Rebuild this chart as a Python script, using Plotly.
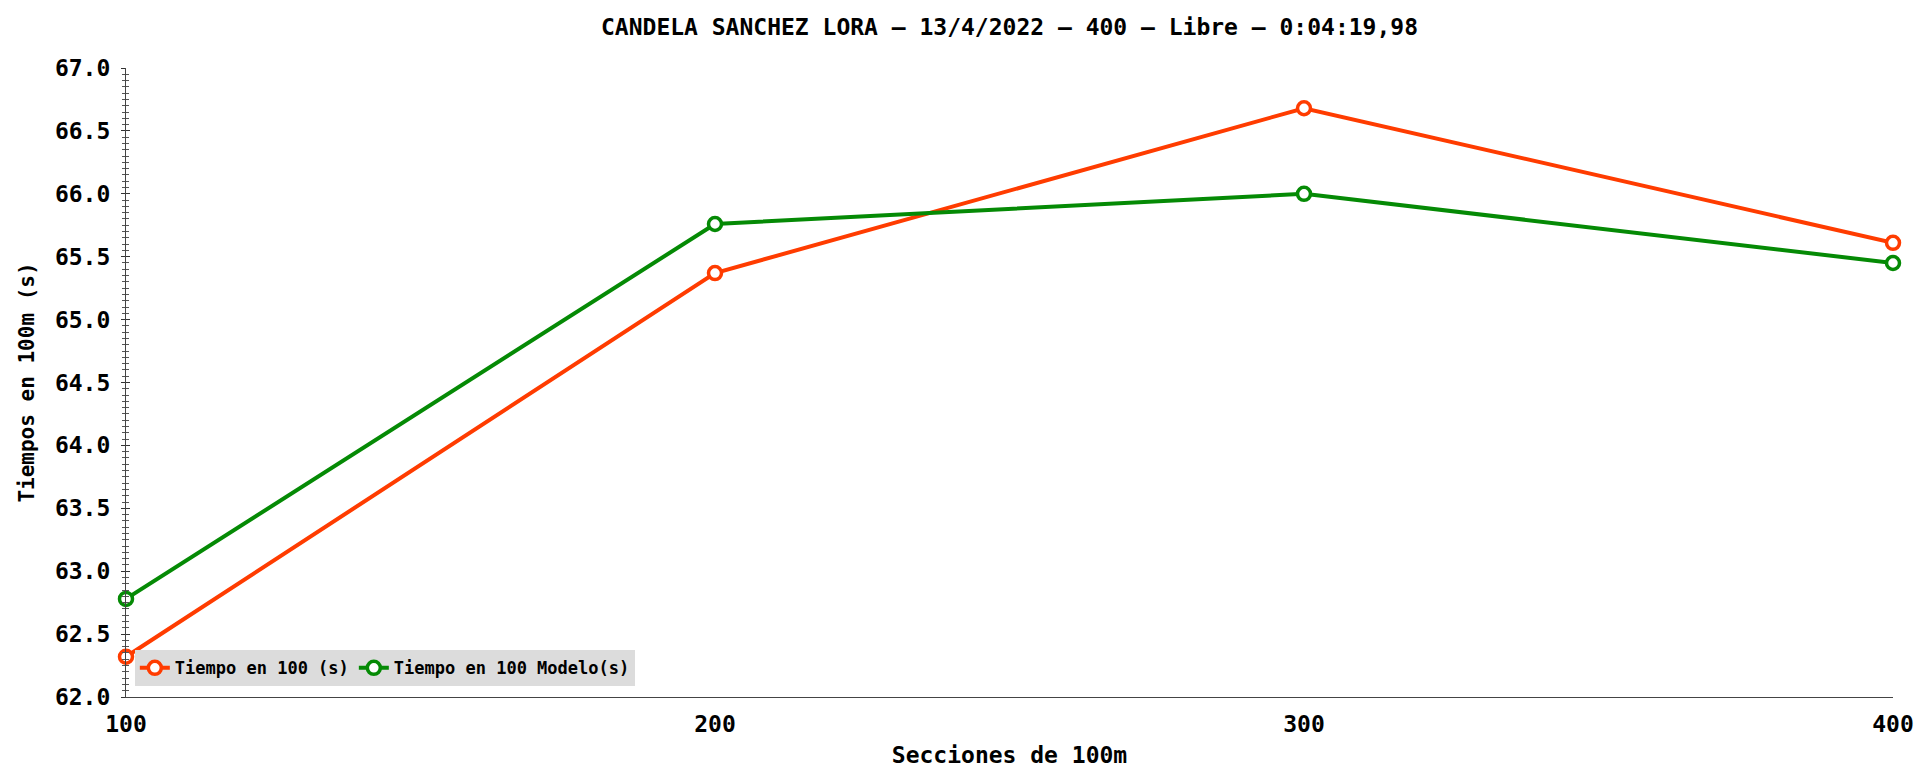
import plotly.graph_objects as go

secciones = [100, 200, 300, 400]
tiempo_real = [62.32, 65.37, 66.68, 65.61]
tiempo_modelo = [62.78, 65.76, 66.00, 65.45]

titulo = "CANDELA SANCHEZ LORA – 13/4/2022 – 400 – Libre – 0:04:19,98"
nombre_real = "Tiempo en 100 (s)"
nombre_modelo = "Tiempo en 100 Modelo(s)"
titulo_x = "Secciones de 100m"
titulo_y = "Tiempos en 100m (s)"

FONT = "DejaVu Sans Mono, monospace"
RED = "#ff3c00"
GREEN = "#058a05"

fig = go.Figure()
for name, vals, col in [(nombre_real, tiempo_real, RED), (nombre_modelo, tiempo_modelo, GREEN)]:
    fig.add_trace(go.Scatter(
        x=secciones, y=vals, name="<b>%s</b>" % name, mode="lines+markers",
        line=dict(color=col, width=4),
        marker=dict(symbol="circle", size=13, color="white", line=dict(color=col, width=3.5)),
        cliponaxis=False,
    ))

yt = [62 + 0.5 * i for i in range(11)]

fig.update_layout(
    width=1915, height=768,
    margin=dict(l=126, r=22, t=68, b=71, autoexpand=False),
    paper_bgcolor="white", plot_bgcolor="white",
    font=dict(family=FONT, color="black"),
    title=dict(text="<b>%s</b>" % titulo, x=0.5, xref="paper", xanchor="center",
               y=1 - 27 / 768, yanchor="middle", font=dict(size=23, family=FONT)),
    showlegend=True,
    legend=dict(orientation="h", x=0.005, y=0.017, xanchor="left", yanchor="bottom",
                bgcolor="#dcdcdc", font=dict(size=17, family=FONT),
                itemwidth=30, tracegroupgap=0, borderwidth=0),
    xaxis=dict(
        range=[100, 400], tickvals=secciones, ticktext=["<b>%d</b>" % v for v in secciones],
        showgrid=False, zeroline=False, showline=True, linecolor="#444", linewidth=1.2,
        ticks="", tickfont=dict(size=23, family=FONT), ticklabelstandoff=6,
        title=dict(text="<b>%s</b>" % titulo_x, font=dict(size=23, family=FONT), standoff=13),
    ),
    yaxis=dict(
        range=[62, 67], tickvals=yt,
        ticktext=["<b>%.1f</b>" % v for v in yt],
        showgrid=False, zeroline=False, showline=True, linecolor="#444", linewidth=1.2,
        ticks="outside", ticklen=4, tickcolor="#333", tickwidth=1,
        minor=dict(ticks="outside", ticklen=3, dtick=0.05, tick0=62, tickcolor="#555", tickwidth=1),
        tickfont=dict(size=23, family=FONT), ticklabelstandoff=6,
        title=dict(text="<b>%s</b>" % titulo_y, font=dict(size=21, family=FONT), standoff=14),
    ),
    yaxis2=dict(
        range=[62, 67], overlaying="y", side="left", showgrid=False, zeroline=False,
        showline=False, showticklabels=False, tickvals=yt,
        ticks="inside", ticklen=4, tickcolor="#333", tickwidth=1,
        minor=dict(ticks="inside", ticklen=3, dtick=0.05, tick0=62, tickcolor="#555", tickwidth=1),
    ),
)
fig.add_trace(go.Scatter(x=[secciones[0]], y=[tiempo_real[0]], yaxis="y2", mode="markers",
                         marker=dict(opacity=0), showlegend=False, hoverinfo="skip"))

fig.write_html("out.html", config={"displayModeBar": False},
               post_script="document.body.style.margin='0';document.body.style.padding='0';")
